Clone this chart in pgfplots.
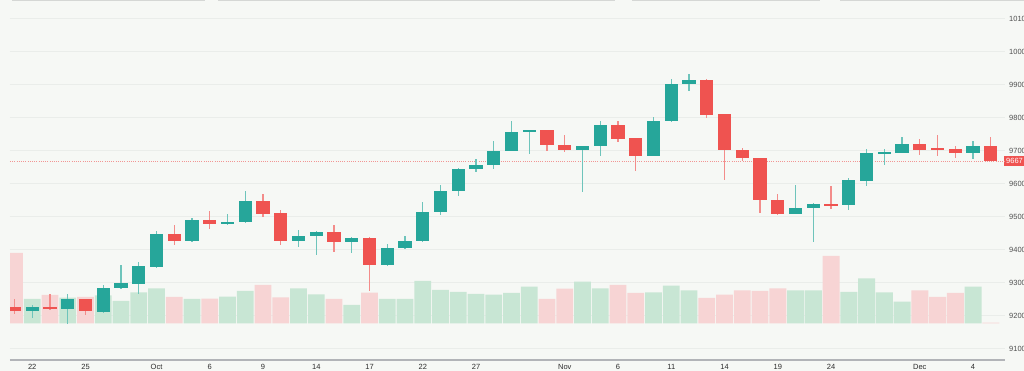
\documentclass[border=0pt]{standalone}
\usepackage{pgfplots}
\pgfplotsset{compat=1.18}
\usepackage{pgfplotstable}
\usepackage{fontspec}
\setmainfont{Liberation Sans}
\definecolor{bg}{RGB}{246,248,245}
\definecolor{gridc}{RGB}{234,237,234}
\definecolor{up}{RGB}{38,166,154}
\definecolor{down}{RGB}{239,83,80}
\definecolor{wickup}{RGB}{110,196,187}
\definecolor{wickdown}{RGB}{243,140,138}
\definecolor{volup}{RGB}{200,230,212}
\definecolor{voldown}{RGB}{247,212,212}
\definecolor{axisc}{RGB}{178,180,184}
\definecolor{ylab}{RGB}{80,80,80}
\definecolor{xlab}{RGB}{45,45,45}
\definecolor{pline}{RGB}{242,150,148}

% up (green) candles: index, open, high, low, close, volume
\pgfplotstableread{
i o h l c v
1 9213 9232 9192 9225 24.3
3 9220 9265 9174 9249 25.6
5 9212 9291 9207 9284 28.0
6 9282 9353 9280 9297 22.3
7 9296 9361 9264 9350 31.0
8 9348 9457 9344 9446 35.0
10 9425 9495 9423 9490 24.3
12 9478 9507 9473 9484 26.6
13 9483 9577 9481 9548 32.3
16 9425 9459 9408 9442 35.0
17 9442 9455 9382 9452 29.0
19 9422 9437 9388 9436 18.3
21 9352 9415 9350 9403 24.3
22 9403 9441 9400 9426 24.3
23 9426 9544 9424 9514 42.3
24 9513 9595 9505 9578 33.3
25 9578 9648 9561 9645 31.3
26 9645 9673 9634 9655 29.3
27 9655 9728 9645 9698 28.6
28 9698 9789 9697 9757 30.3
29 9757 9763 9690 9762 36.6
32 9701 9715 9574 9715 41.6
33 9715 9789 9683 9778 35.0
36 9683 9800 9682 9789 31.0
37 9788 9917 9787 9901 37.6
38 9901 9933 9880 9913 33.0
44 9507 9595 9506 9526 33.0
45 9526 9541 9422 9538 33.0
47 9534 9617 9520 9611 31.3
48 9609 9705 9591 9693 45.0
49 9692 9703 9657 9695 31.0
50 9693 9742 9692 9721 21.6
54 9692 9730 9673 9713 36.6
}\upT

% down (red) candles
\pgfplotstableread{
i o h l c v
0 9227 9249 9203 9213 70.3
2 9225 9265 9218 9220 28.3
4 9249 9251 9200 9212 26.3
9 9446 9474 9414 9425 26.3
11 9490 9516 9462 9478 24.6
14 9548 9567 9499 9507 38.3
15 9510 9520 9413 9425 26.0
18 9452 9474 9393 9422 24.3
20 9436 9438 9274 9352 30.6
30 9762 9763 9698 9716 24.3
31 9717 9746 9695 9701 34.6
34 9778 9788 9725 9736 38.3
35 9737 9738 9639 9683 30.3
39 9914 9917 9798 9808 25.3
40 9809 9810 9609 9700 28.6
41 9700 9708 9667 9677 33.0
42 9676 9677 9510 9551 32.3
43 9551 9569 9505 9507 35.0
46 9538 9593 9523 9534 67.3
51 9721 9736 9687 9702 33.0
52 9705 9748 9683 9703 26.3
53 9703 9713 9677 9692 30.3
55 9713 9740 9667 9667 0.6
}\downT

\pgfplotsset{common/.style={scale only axis, width=995pt, height=359pt,
  xmin=-0.2535, xmax=55.8, at={(10pt,12pt)}, anchor=south west},
  candle/.style 2 args={draw=none, mark=none, forget plot,
    error bars/.cd, y dir=both, y explicit, error mark=none,
    error bar style={line width=#1, draw=#2, solid}}}

\begin{document}
\begin{tikzpicture}
\fill[bg] (0,0) rectangle (1024pt,371pt);
% top chrome line
\draw[gridc!80!gray, line width=1.5pt] (12pt,370.5pt) -- (205pt,370.5pt);
\draw[gridc!80!gray, line width=1.5pt] (218pt,370.5pt) -- (615pt,370.5pt);
\draw[gridc!80!gray, line width=1.5pt] (632pt,370.5pt) -- (820pt,370.5pt);
\draw[gridc!80!gray, line width=1.5pt] (840pt,370.5pt) -- (1024pt,370.5pt);

% price axis: grid, ticks, labels
\begin{axis}[common, ymin=9068, ymax=10156, clip=false,
  axis line style={draw=none}, major tick length=0pt, tick style={draw=none},
  ytick={9100,9200,9300,9400,9500,9600,9700,9800,9900,10000,10100},
  scaled y ticks=false, scaled x ticks=false,
  ymajorgrids, grid style={gridc, line width=0.9pt},
  yticklabel pos=right,
  /pgf/number format/1000 sep={}, /pgf/number format/assume math mode=true,
  yticklabel style={anchor=west, inner sep=0pt, xshift=4pt,
    font=\fontsize{7.5}{8}\selectfont, text=ylab},
  extra y ticks={9667}, extra y tick labels={9667},
  extra y tick style={grid=none, yticklabel style={fill=down, text=white,
    inner xsep=2pt, inner ysep=2.4pt, xshift=-5pt}},
  xtick={1,4,8,11,14,17,20,23,26,31,34,37,40,43,46,51,54},
  xticklabels={22,25,Oct,6,9,14,17,22,27,Nov,6,11,14,19,24,Dec,4},
  xticklabel style={anchor=base, yshift=-11pt,
    font=\fontsize{7.5}{8}\selectfont, text=xlab},
]
\addplot[pline, line width=0.6pt, dash pattern=on 0.8pt off 1.4pt]
  coordinates {(-0.2535,9667) (55.8,9667)};
\draw[axisc, line width=2pt] ([yshift=-0.7pt]rel axis cs:0,0) -- ([yshift=-0.7pt]rel axis cs:1,0);
\end{axis}

% volume axis
\begin{axis}[common, hide axis, ymin=-35.7, ymax=323.3]
\addplot[ybar, bar width=16.9pt, bar shift=0pt, fill=volup, draw=none]
  table[x=i, y=v] {\upT};
\addplot[ybar, bar width=16.9pt, bar shift=0pt, fill=voldown, draw=none]
  table[x=i, y=v] {\downT};
\end{axis}

% candles
\begin{axis}[common, hide axis, ymin=9068, ymax=10156]
\addplot[candle={1.3pt}{wickup}]
  table[x=i, y expr={(\thisrow{h}+\thisrow{l})/2},
        y error expr={(\thisrow{h}-\thisrow{l})/2}] {\upT};
\addplot[candle={1.3pt}{wickdown}]
  table[x=i, y expr={(\thisrow{h}+\thisrow{l})/2},
        y error expr={(\thisrow{h}-\thisrow{l})/2}] {\downT};
\addplot[candle={13.3pt}{up}]
  table[x=i, y expr={(\thisrow{o}+\thisrow{c})/2},
        y error expr={max(abs(\thisrow{c}-\thisrow{o})/2,2)}] {\upT};
\addplot[candle={13.3pt}{down}]
  table[x=i, y expr={(\thisrow{o}+\thisrow{c})/2},
        y error expr={max(abs(\thisrow{c}-\thisrow{o})/2,2)}] {\downT};
\end{axis}
\pgfresetboundingbox
\path[use as bounding box] (0,0) rectangle (1024pt,371pt);
\end{tikzpicture}
\end{document}
